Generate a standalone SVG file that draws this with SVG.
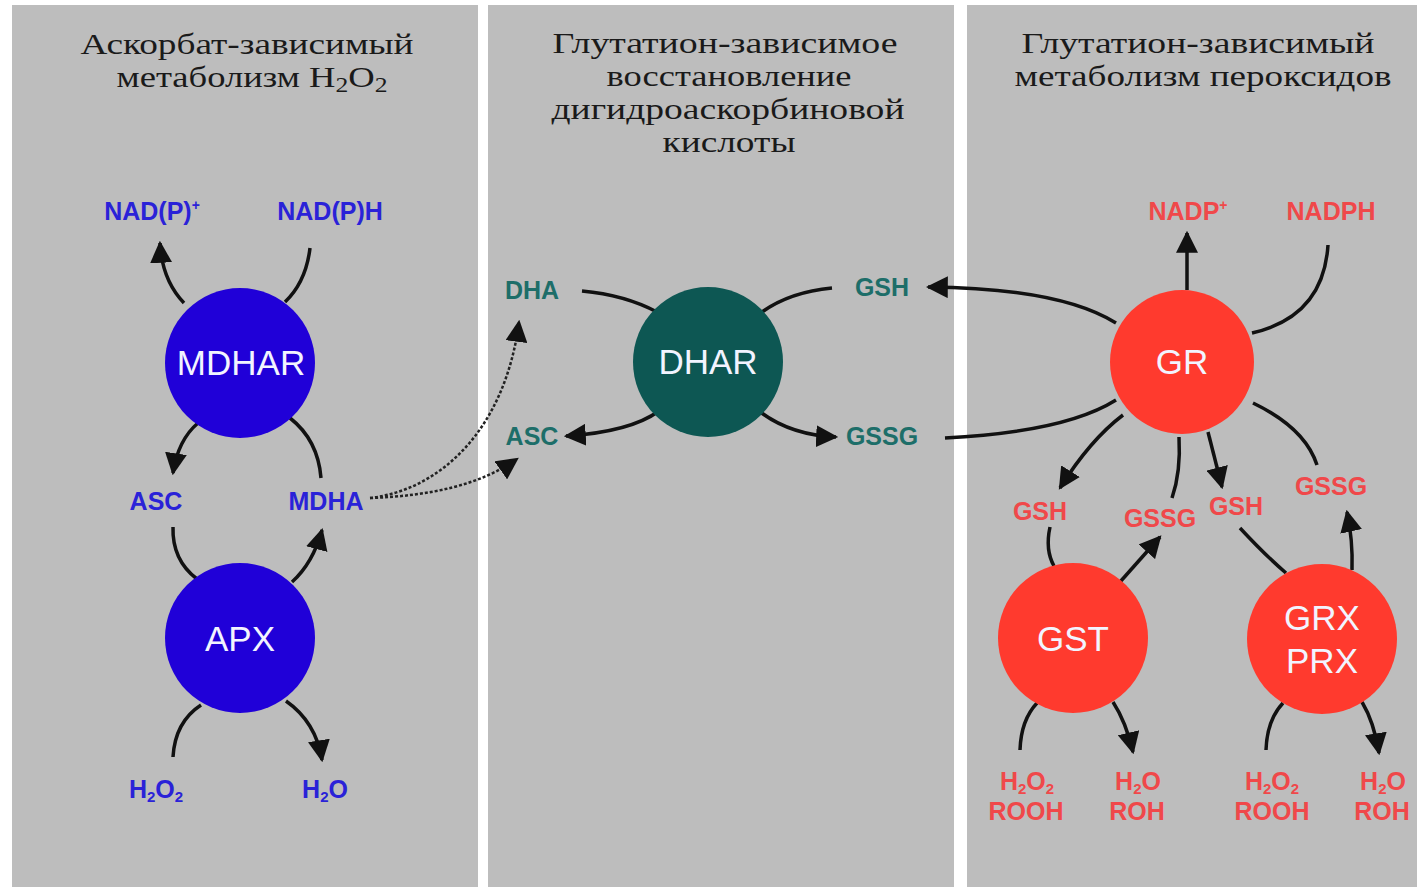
<svg xmlns="http://www.w3.org/2000/svg" width="1417" height="887" viewBox="0 0 1417 887">
<defs>
<style>
.panel{fill:#bdbdbd}
.title{font-family:"Liberation Serif","Times New Roman",serif;font-size:30px;fill:#1a1a1a;text-anchor:middle}
.lbl{font-family:"Liberation Sans",Arial,sans-serif;font-weight:bold;font-size:25px;text-anchor:middle}
.blue{fill:#2a22d8}
.teal{fill:#1d6e69}
.red{fill:#f0484a}
.enz{font-family:"Liberation Sans",Arial,sans-serif;font-size:35px;fill:#f2f4ff;text-anchor:middle}
.ln{fill:none;stroke:#111;stroke-width:3.5}
.arr{marker-end:url(#ah)}
.dot{fill:none;stroke:#222;stroke-width:2.5;stroke-dasharray:3 2}
</style>
<marker id="ah" markerUnits="userSpaceOnUse" markerWidth="22" markerHeight="22" viewBox="0 0 10 10" refX="9" refY="5" orient="auto">
<path d="M0,0 L10,5 L0,10 z" fill="#111"/>
</marker>
</defs>
<rect width="1417" height="887" fill="#ffffff"/>
<rect class="panel" x="12" y="5" width="466" height="882"/>
<rect class="panel" x="488" y="5" width="466" height="882"/>
<rect class="panel" x="967" y="5" width="450" height="882"/>

<g id="titles">
<text class="title" x="247" y="54" textLength="333" lengthAdjust="spacingAndGlyphs">Аскорбат-зависимый</text>
<text class="title" x="252" y="87" textLength="271" lengthAdjust="spacingAndGlyphs">метаболизм H<tspan font-size="21" dy="5">2</tspan><tspan dy="-5">O</tspan><tspan font-size="21" dy="5">2</tspan></text>
<text class="title" x="725" y="53" textLength="345" lengthAdjust="spacingAndGlyphs">Глутатион-зависимое</text>
<text class="title" x="729" y="86" textLength="245" lengthAdjust="spacingAndGlyphs">восстановление</text>
<text class="title" x="728" y="119" textLength="353" lengthAdjust="spacingAndGlyphs">дигидроаскорбиновой</text>
<text class="title" x="729" y="152" textLength="133" lengthAdjust="spacingAndGlyphs">кислоты</text>
<text class="title" x="1198" y="53" textLength="353" lengthAdjust="spacingAndGlyphs">Глутатион-зависимый</text>
<text class="title" x="1203" y="86" textLength="377" lengthAdjust="spacingAndGlyphs">метаболизм пероксидов</text>
</g>

<g id="connectors">
<!-- MDHAR -->
<path class="ln arr" d="M184,303 Q162,280 160,243"/>
<path class="ln" d="M310,248 Q306,282 285,302"/>
<path class="ln arr" d="M198,423 Q178,440 173,473"/>
<path class="ln" d="M290,418 Q318,440 321,478"/>
<!-- APX -->
<path class="ln" d="M173,527 Q172,560 197,579"/>
<path class="ln arr" d="M292,582 Q313,563 322,530"/>
<path class="ln" d="M173,757 Q175,722 201,705"/>
<path class="ln arr" d="M286,701 Q316,722 322,760"/>
<!-- dotted -->
<path class="dot arr" d="M370,498 C440,490 505,430 519,322"/>
<path class="dot arr" d="M370,498 C430,496 480,485 517,459"/>
<!-- DHAR -->
<path class="ln" d="M582,291 Q625,295 657,312"/>
<path class="ln" d="M832,288 Q790,292 762,312"/>
<path class="ln arr" d="M659,411 Q630,432 566,436"/>
<path class="ln arr" d="M759,411 Q790,435 836,437"/>
<!-- GR -->
<path class="ln arr" d="M1116,323 Q1060,288 928,287"/>
<path class="ln" d="M945,438 Q1065,432 1116,400"/>
<path class="ln arr" d="M1187,290 L1187,233"/>
<path class="ln" d="M1328,245 C1325,292 1300,322 1252,333"/>
<path class="ln arr" d="M1123,415 Q1090,440 1060,488"/>
<path class="ln" d="M1179,437 Q1181,472 1172,498"/>
<path class="ln arr" d="M1208,432 L1222,487"/>
<path class="ln" d="M1253,403 Q1305,428 1317,465"/>
<!-- GST -->
<path class="ln" d="M1050,527 Q1045,550 1054,566"/>
<path class="ln arr" d="M1120,582 L1160,537"/>
<path class="ln" d="M1020,750 Q1021,720 1037,703"/>
<path class="ln arr" d="M1113,702 Q1126,722 1133,752"/>
<!-- GRX -->
<path class="ln" d="M1240,528 Q1265,555 1286,573"/>
<path class="ln arr" d="M1352,570 Q1353,540 1347,512"/>
<path class="ln" d="M1266,750 Q1267,720 1283,703"/>
<path class="ln arr" d="M1362,702 Q1374,722 1379,753"/>
</g>

<g id="MDHAR">
<circle cx="240" cy="363" r="75" fill="#2000d8"/>
<text class="enz" x="241" y="375">MDHAR</text>
</g>
<g id="APX">
<circle cx="240" cy="638" r="75" fill="#2000d8"/>
<text class="enz" x="240" y="651">APX</text>
</g>
<g id="DHAR">
<circle cx="708" cy="362" r="75" fill="#0d5753"/>
<text class="enz" x="708" y="374">DHAR</text>
</g>
<g id="GR">
<circle cx="1182" cy="362" r="72" fill="#ff3a2e"/>
<text class="enz" x="1182" y="374">GR</text>
</g>
<g id="GST">
<circle cx="1073" cy="638" r="75" fill="#ff3a2e"/>
<text class="enz" x="1073" y="651">GST</text>
</g>
<g id="GRXPRX">
<circle cx="1322" cy="639" r="75" fill="#ff3a2e"/>
<text class="enz" x="1322" y="630">GRX</text>
<text class="enz" x="1322" y="673">PRX</text>
</g>

<g id="labels-left">
<text class="lbl blue" x="152" y="220">NAD(P)<tspan font-size="14" dy="-10">+</tspan></text>
<text class="lbl blue" x="330" y="220">NAD(P)H</text>
<text class="lbl blue" x="156" y="510">ASC</text>
<text class="lbl blue" x="326" y="510">MDHA</text>
<text class="lbl blue" x="156" y="798">H<tspan font-size="15" dy="4">2</tspan><tspan dy="-4">O</tspan><tspan font-size="15" dy="4">2</tspan></text>
<text class="lbl blue" x="325" y="798">H<tspan font-size="15" dy="4">2</tspan><tspan dy="-4">O</tspan></text>
</g>

<g id="labels-middle">
<text class="lbl teal" x="532" y="299">DHA</text>
<text class="lbl teal" x="882" y="296">GSH</text>
<text class="lbl teal" x="532" y="445">ASC</text>
<text class="lbl teal" x="882" y="445">GSSG</text>
</g>

<g id="labels-right">
<text class="lbl red" x="1188" y="220">NADP<tspan font-size="14" dy="-10">+</tspan></text>
<text class="lbl red" x="1331" y="220">NADPH</text>
<text class="lbl red" x="1040" y="520">GSH</text>
<text class="lbl red" x="1160" y="527">GSSG</text>
<text class="lbl red" x="1236" y="515">GSH</text>
<text class="lbl red" x="1331" y="495">GSSG</text>
<text class="lbl red" x="1027" y="790">H<tspan font-size="15" dy="4">2</tspan><tspan dy="-4">O</tspan><tspan font-size="15" dy="4">2</tspan></text>
<text class="lbl red" x="1026" y="820">ROOH</text>
<text class="lbl red" x="1138" y="790">H<tspan font-size="15" dy="4">2</tspan><tspan dy="-4">O</tspan></text>
<text class="lbl red" x="1137" y="820">ROH</text>
<text class="lbl red" x="1272" y="790">H<tspan font-size="15" dy="4">2</tspan><tspan dy="-4">O</tspan><tspan font-size="15" dy="4">2</tspan></text>
<text class="lbl red" x="1272" y="820">ROOH</text>
<text class="lbl red" x="1383" y="790">H<tspan font-size="15" dy="4">2</tspan><tspan dy="-4">O</tspan></text>
<text class="lbl red" x="1382" y="820">ROH</text>
</g>
</svg>
